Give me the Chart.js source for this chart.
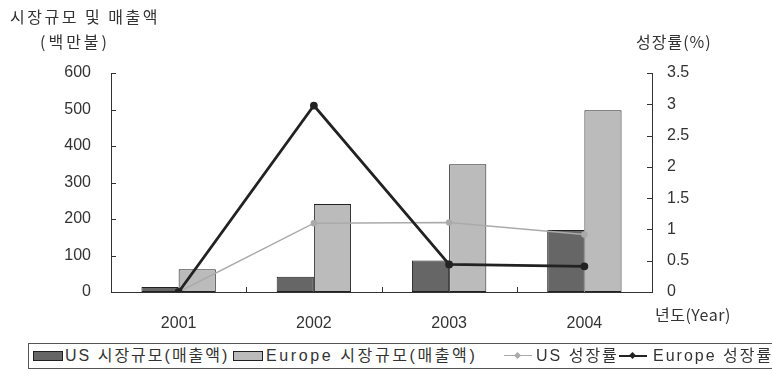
<!DOCTYPE html>
<html>
<head>
<meta charset="utf-8">
<script src="https://cdn.jsdelivr.net/npm/chart.js@4/dist/chart.umd.min.js"></script>
<style>
  html, body { margin: 0; padding: 0; background: #fff; }
  body { width: 772px; height: 390px; position: relative; overflow: hidden;
         font-family: "Liberation Sans", "Noto Sans CJK KR", sans-serif; color: #333; }
  #wrap { position: absolute; left: 0; top: 0; width: 772px; height: 340px; }
  .lbl { position: absolute; font-size: 16px; letter-spacing: 2.5px; white-space: nowrap;
         font-family: "Noto Sans CJK KR", sans-serif; }
  #legend { position: absolute; left: 28px; top: 343px; width: 760px; height: 26px; box-sizing: border-box;
            border: 1px solid #555; font-size: 16px; letter-spacing: 2px;
            font-family: "Liberation Sans", "Noto Sans CJK KR", sans-serif; white-space: nowrap; }
  #legend span { position: absolute; top: 0; line-height: 24px; }
  .sw { display: inline-block; width: 28px; height: 8px; border: 1px solid #222; top: 7px !important; }
  .ln { display: inline-block; width: 28px; height: 10px; top: 7px !important; }
  .ln i { position: absolute; left: 0; right: 0; top: 4px; }
  .ln b { position: absolute; left: 11px; top: 2px; width: 5px; height: 5px; transform: rotate(45deg); }
</style>
</head>
<body>
<div id="wrap"><canvas id="chart" width="772" height="340"></canvas></div>
<div class="lbl" style="left:10px; top:4px;">시장규모 및 매출액</div>
<div class="lbl" style="left:40px; top:29px; letter-spacing:3px;">(백만불)</div>
<div class="lbl" style="left:636px; top:29px; letter-spacing:1px;">성장률(%)</div>
<div class="lbl" style="left:655px; top:302px; letter-spacing:0.5px;">년도(Year)</div>
<div id="legend">
  <span class="sw" style="left:4px; background:#666;"></span>
  <span style="left:36px;">US 시장규모(매출액)</span>
  <span class="sw" style="left:204px; background:#bbb;"></span>
  <span style="left:237px; letter-spacing:2.6px;">Europe 시장규모(매출액)</span>
  <span class="ln" style="left:475px;"><i style="border-top:1.5px solid #aaa;"></i><b style="background:#aaa;"></b></span>
  <span style="left:507px;">US 성장률</span>
  <span class="ln" style="left:590px;"><i style="border-top:2px solid #222;"></i><b style="background:#222;"></b></span>
  <span style="left:624px;">Europe 성장률</span>
</div>
<script>
const years = ["2001", "2002", "2003", "2004"];
const usSales = [14, 42, 86, 170];
const euSales = [62, 241, 350, 498];
const usGrowth = [0, 1.1, 1.11, 0.92];
const euGrowth = [0, 2.98, 0.44, 0.41];
const salesTicks = [0, 100, 200, 300, 400, 500, 600];
const growthTicks = [0, 0.5, 1, 1.5, 2, 2.5, 3, 3.5];

// inward tick marks on all three axes
const innerTicks = {
  id: "innerTicks",
  afterDraw(chart) {
    const { ctx, scales: { x, y, y1 } } = chart;
    ctx.save();
    ctx.strokeStyle = "#333";
    ctx.lineWidth = 1;
    ctx.beginPath();
    salesTicks.forEach(v => {
      const py = Math.round(y.getPixelForValue(v)) + 0.5;
      ctx.moveTo(x.left, py); ctx.lineTo(x.left + 5, py);
    });
    growthTicks.forEach(v => {
      const py = Math.round(y1.getPixelForValue(v)) + 0.5;
      ctx.moveTo(x.right, py); ctx.lineTo(x.right - 5, py);
    });
    for (let i = 1; i < years.length; i++) {
      const px = Math.round((x.getPixelForValue(i - 1) + x.getPixelForValue(i)) / 2) + 0.5;
      ctx.moveTo(px, y.bottom); ctx.lineTo(px, y.bottom - 5);
    }
    ctx.stroke();
    ctx.restore();
  }
};

const tickFont = { family: "Liberation Sans", size: 16 };

new Chart(document.getElementById("chart"), {
  type: "bar",
  data: {
    labels: years,
    datasets: [
      { type: "line", label: "Europe 성장률", data: euGrowth, yAxisID: "y1", order: 0,
        borderColor: "#222", backgroundColor: "#222", borderWidth: 2.8,
        pointStyle: "circle", pointRadius: 2.5, tension: 0 },
      { type: "line", label: "US 성장률", data: usGrowth, yAxisID: "y1", order: 1,
        borderColor: "#aaa", backgroundColor: "#aaa", borderWidth: 1.5,
        pointStyle: "circle", pointRadius: 2.5, tension: 0 },
      { label: "US 시장규모(매출액)", data: usSales, yAxisID: "y", order: 2,
        backgroundColor: "#666", borderColor: "#222", borderWidth: 1, borderSkipped: false,
        barPercentage: 1, categoryPercentage: 0.55 },
      { label: "Europe 시장규모(매출액)", data: euSales, yAxisID: "y", order: 2,
        backgroundColor: "#bbb", borderColor: "#222", borderWidth: 1, borderSkipped: false,
        barPercentage: 1, categoryPercentage: 0.55 }
    ]
  },
  options: {
    responsive: false,
    animation: false,
    layout: { padding: { top: 73, left: 0, right: 0, bottom: 0 } },
    plugins: { legend: { display: false }, tooltip: { enabled: false } },
    scales: {
      x: {
        grid: { display: false },
        border: { color: "#333", width: 1 },
        ticks: { color: "#333", font: tickFont, padding: 14 },
        afterFit(s) { s.height = 48; }
      },
      y: {
        position: "left", min: 0, max: 600,
        grid: { display: false },
        border: { color: "#333", width: 1 },
        ticks: { stepSize: 100, color: "#333", font: tickFont, padding: 12 },
        afterFit(s) { s.width = 111; }
      },
      y1: {
        position: "right", min: 0, max: 3.5,
        grid: { display: false },
        border: { color: "#333", width: 1 },
        ticks: { stepSize: 0.5, color: "#333", font: tickFont, padding: 7,
                 callback: v => String(v) },
        afterFit(s) { s.width = 120; }
      }
    }
  },
  plugins: [innerTicks]
});
</script>
</body>
</html>
